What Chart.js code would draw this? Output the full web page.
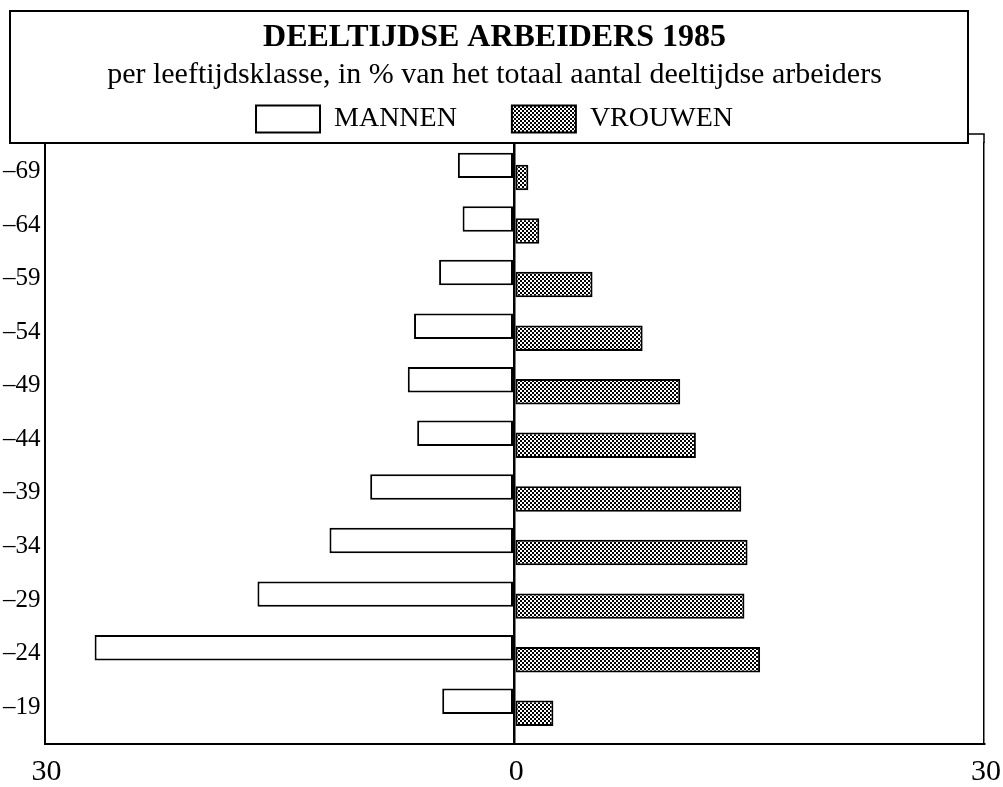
<!DOCTYPE html>
<html>
<head>
<meta charset="utf-8">
<script src="https://cdn.jsdelivr.net/npm/chart.js@4.4.1/dist/chart.umd.min.js"></script>
<style>
  html, body { margin: 0; padding: 0; background: #fff; }
  #wrap { width: 1003px; height: 787px; position: relative; }
</style>
</head>
<body>
<div id="wrap"><canvas id="c"></canvas></div>
<script>
// ---- data (bottom row first) ----
const categories = ['–19', '–24', '–29', '–34', '–39', '–44', '–49', '–54', '–59', '–64', '–69'];
const menValues = [4.6, 26.8, 16.4, 11.8, 9.2, 6.2, 6.8, 6.4, 4.8, 3.3, 3.6];
const womenValues = [2.5, 15.7, 14.7, 14.9, 14.5, 11.6, 10.6, 8.2, 5.0, 1.6, 0.9];
const seriesNames = ['MANNEN', 'VROUWEN'];
const xTickValues = [-30, 0, 30];
const xTickLabels = ['30', '0', '30'];
const titleText = 'DEELTIJDSE ARBEIDERS 1985';
const subtitleText = 'per leeftijdsklasse, in % van het totaal aantal deeltijdse arbeiders';

const SERIF = "'Liberation Serif', 'Times New Roman', serif";

function makePattern() {
  const c = document.createElement('canvas');
  c.width = 4; c.height = 4;
  const g = c.getContext('2d');
  g.fillStyle = '#fff'; g.fillRect(0, 0, 4, 4);
  g.fillStyle = '#000';
  g.fillRect(0, 0, 2, 2);
  g.fillRect(2, 2, 2, 2);
  return g.createPattern(c, 'repeat');
}
const womenFill = makePattern();

const headerBox = {
  id: 'headerBox',
  afterDraw(chart) {
    const ctx = chart.ctx;
    const a = chart.chartArea;
    ctx.save();
    ctx.strokeStyle = '#000';
    ctx.lineWidth = 2;
    ctx.strokeRect(10, 11, 958, a.top - 11);
    // small visible corner of the plot frame behind the header box
    ctx.lineWidth = 1.5;
    ctx.beginPath();
    ctx.moveTo(968, a.top - 9);
    ctx.lineTo(a.right, a.top - 9);
    ctx.lineTo(a.right, a.top);
    ctx.stroke();
    ctx.restore();
  }
};

Chart.defaults.color = '#000';
Chart.defaults.font.family = SERIF;

new Chart(document.getElementById('c'), {
  type: 'bar',
  data: {
    datasets: [
      {
        label: seriesNames[0],
        data: menValues.map((v, i) => ({ x: -v, y: i })),
        backgroundColor: '#fff',
        borderColor: '#000',
        borderWidth: 2,
        borderSkipped: false
      },
      {
        label: seriesNames[1],
        data: womenValues.map((v, i) => ({ x: v, y: i })),
        backgroundColor: womenFill,
        borderColor: '#000',
        borderWidth: 2,
        borderSkipped: false
      }
    ]
  },
  options: {
    indexAxis: 'y',
    responsive: true,
    maintainAspectRatio: false,
    animation: false,
    categoryPercentage: 0.448,
    barPercentage: 2.12,
    layout: { padding: { left: 0, right: 14, top: 0, bottom: 0 } },
    plugins: {
      tooltip: { enabled: false },
      title: {
        display: true,
        text: titleText,
        color: '#000',
        font: { family: SERIF, size: 32, weight: 'bold', lineHeight: 1.2 },
        padding: { top: 18.3, bottom: -6.7 }
      },
      subtitle: {
        display: true,
        text: subtitleText,
        color: '#000',
        font: { family: SERIF, size: 30, weight: 'normal', lineHeight: 1.2 },
        padding: { top: 7.2, bottom: -43.2 }
      },
      legend: {
        display: true,
        position: 'top',
        align: 'center',
        labels: {
          color: '#000',
          font: { family: SERIF, size: 28, lineHeight: 1 },
          boxWidth: 64,
          boxHeight: 27,
          padding: 55
        }
      }
    },
    scales: {
      x: {
        type: 'linear',
        position: 'bottom',
        min: -30,
        max: 30,
        offset: false,
        afterBuildTicks: (s) => { s.ticks = xTickValues.map(v => ({ value: v })); },
        afterFit: (s) => { s.height = 43; },
        ticks: {
          autoSkip: false,
          maxRotation: 0,
          padding: 3,
          labelOffset: 2,
          font: { family: SERIF, size: 30, lineHeight: 1.7 },
          callback: (v) => xTickLabels[xTickValues.indexOf(v)]
        },
        grid: {
          display: true,
          drawTicks: false,
          offset: false,
          color: (ctx) => (ctx.tick && ctx.tick.value === 0 ? '#000' : 'rgba(0,0,0,0)'),
          lineWidth: 2.5
        },
        border: { display: true, color: '#000', width: 2 }
      },
      y: {
        type: 'linear',
        position: 'left',
        min: -0.685,
        max: 10.53,
        offset: false,
        afterBuildTicks: (s) => { s.ticks = categories.map((c, i) => ({ value: i })); },
        afterFit: (s) => { s.width = 44.5; },
        ticks: {
          autoSkip: false,
          padding: 4,
          font: { family: SERIF, size: 25 },
          callback: (v) => categories[v] !== undefined ? categories[v] : ''
        },
        grid: { display: false, drawTicks: false, offset: false },
        border: { display: true, color: '#000', width: 2 }
      },
      y2: {
        type: 'linear',
        position: 'right',
        min: 0,
        max: 1,
        offset: false,
        afterFit: (s) => { s.width = 5; },
        ticks: { display: false },
        grid: { display: false, drawTicks: false },
        border: { display: true, color: '#000', width: 1.5 }
      }
    }
  },
  plugins: [headerBox]
});
</script>
</body>
</html>
